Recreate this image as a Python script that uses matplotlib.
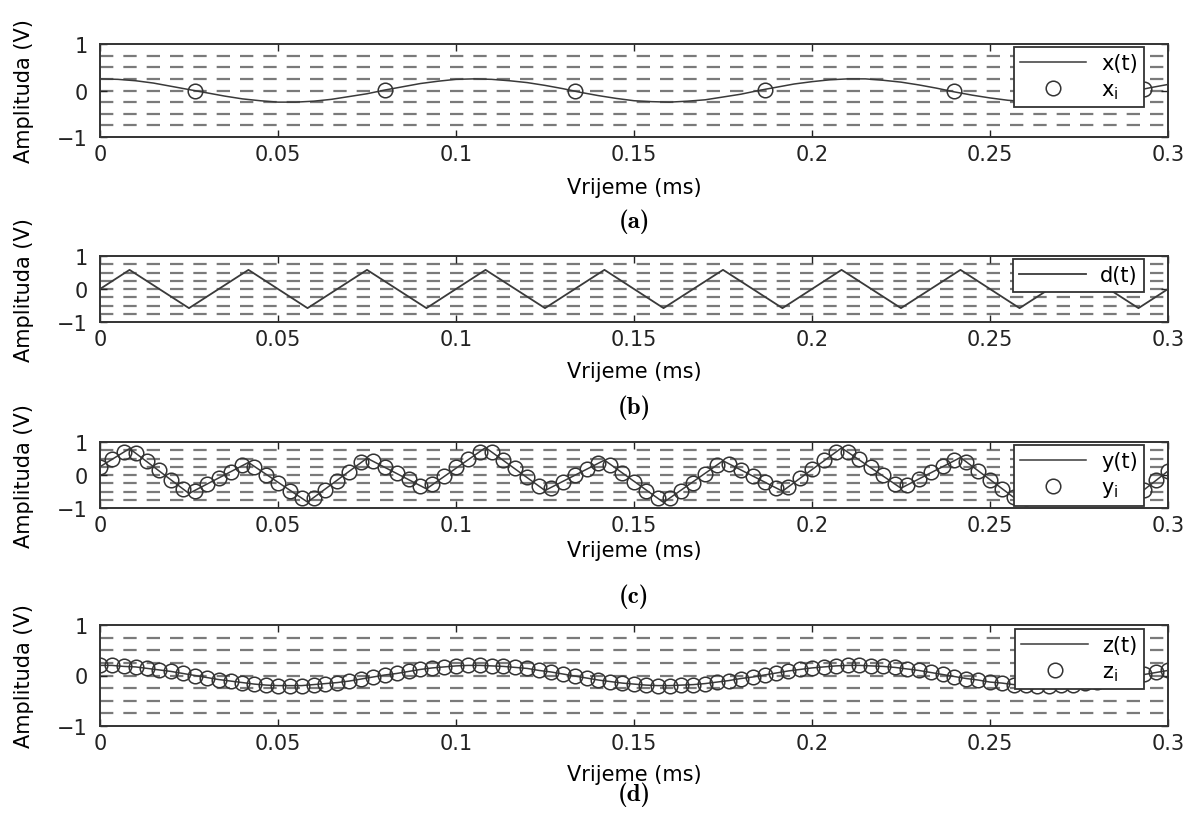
import numpy as np
import matplotlib
matplotlib.use("Agg")
import matplotlib.pyplot as plt

# x(t): slow sine, read every 0.005 ms
t_x = np.linspace(0, 0.3, 61)
x_line = [0.25, 0.24, 0.21, 0.16, 0.09, 0.02, -0.05, -0.12, -0.18, -0.22,
          -0.25, -0.25, -0.23, -0.19, -0.13, -0.07, 0.01, 0.08, 0.15, 0.20,
          0.24, 0.25, 0.24, 0.21, 0.17, 0.11, 0.04, -0.04, -0.11, -0.17,
          -0.22, -0.24, -0.25, -0.23, -0.20, -0.14, -0.08, 0.00, 0.07, 0.14,
          0.19, 0.23, 0.25, 0.25, 0.22, 0.18, 0.12, 0.05, -0.03, -0.10,
          -0.16, -0.21, -0.24, -0.25, -0.24, -0.21, -0.15, -0.09, -0.02, 0.06,
          0.13]
t_xi = [0.0267, 0.08, 0.1333, 0.1867, 0.24, 0.2933]
x_i = [0.00, 0.01, -0.01, 0.02, -0.02, 0.03]

# d(t) triangle and y(t) = x(t) + d(t), at the triangle corners
t_d = [0, 0.0083, 0.025, 0.0417, 0.0583, 0.075, 0.0917, 0.1083, 0.125, 0.1417,
       0.1583, 0.175, 0.1917, 0.2083, 0.225, 0.2417, 0.2583, 0.275, 0.2917, 0.3]
d_line = [0, 0.58, -0.58, 0.58, -0.58, 0.58, -0.58, 0.58, -0.58, 0.58,
          -0.58, 0.58, -0.58, 0.58, -0.58, 0.58, -0.58, 0.58, -0.58, 0]
y_line = [0.25, 0.80, -0.56, 0.38, -0.82, 0.51, -0.42, 0.83, -0.47, 0.45,
          -0.83, 0.43, -0.49, 0.82, -0.40, 0.53, -0.81, 0.37, -0.58, 0.12]

# samples y_i and filtered z_i
t_s = np.linspace(0, 0.3, 91)
y_i = [0.25, 0.48, 0.70, 0.67, 0.41, 0.14, -0.14, -0.42, -0.47, -0.28,
       -0.10, 0.09, 0.29, 0.25, 0.00, -0.25, -0.48, -0.71, -0.69, -0.44,
       -0.17, 0.10, 0.38, 0.42, 0.24, 0.06, -0.13, -0.32, -0.28, -0.02,
       0.23, 0.48, 0.71, 0.71, 0.46, 0.20, -0.06, -0.34, -0.38, -0.20,
       -0.01, 0.17, 0.36, 0.31, 0.05, -0.22, -0.47, -0.71, -0.71, -0.47,
       -0.23, 0.03, 0.30, 0.34, 0.15, -0.03, -0.22, -0.40, -0.35, -0.08,
       0.19, 0.45, 0.70, 0.71, 0.48, 0.24, -0.01, -0.27, -0.30, -0.11,
       0.08, 0.26, 0.44, 0.39, 0.12, -0.16, -0.42, -0.68, -0.70, -0.48,
       -0.25, -0.01, 0.24, 0.27, 0.07, -0.12, -0.30, -0.49, -0.44, -0.16,
       0.12]
z_i = [0.20, 0.20, 0.18, 0.17, 0.14, 0.11, 0.08, 0.04, 0.00, -0.04,
       -0.08, -0.11, -0.14, -0.17, -0.19, -0.20, -0.20, -0.20, -0.18, -0.16,
       -0.14, -0.11, -0.07, -0.03, 0.01, 0.04, 0.08, 0.12, 0.15, 0.17,
       0.19, 0.20, 0.20, 0.19, 0.18, 0.16, 0.14, 0.10, 0.07, 0.03,
       -0.01, -0.05, -0.09, -0.12, -0.15, -0.17, -0.19, -0.20, -0.20, -0.19,
       -0.18, -0.16, -0.13, -0.10, -0.06, -0.03, 0.01, 0.05, 0.09, 0.12,
       0.15, 0.17, 0.19, 0.20, 0.20, 0.19, 0.18, 0.16, 0.13, 0.10,
       0.06, 0.02, -0.02, -0.06, -0.09, -0.13, -0.15, -0.18, -0.19, -0.20,
       -0.20, -0.19, -0.18, -0.15, -0.13, -0.09, -0.06, -0.02, 0.02, 0.06,
       0.10]

xticks = [0, 0.05, 0.1, 0.15, 0.2, 0.25, 0.3]
xtick_labels = ["0", "0.05", "0.1", "0.15", "0.2", "0.25", "0.3"]
yticks = [-1, 0, 1]
ytick_labels = ["\u22121", "0", "1"]
grid_levels = [-0.75, -0.5, -0.25, 0, 0.25, 0.5, 0.75]
captions = ["(a)", "(b)", "(c)", "(d)"]

plt.rcParams["font.family"] = "DejaVu Sans"
fig = plt.figure(figsize=(11.96, 8.29), dpi=100)
W, H = 1196, 829

# panel boxes in pixels: top, bottom ; plus xlabel / caption rows
tops = [45, 257, 443, 626]
bottoms = [138, 323, 509, 727]
xlabel_y = [188, 372, 551, 775]
caption_y = [222, 408, 597, 795]
left, right = 100, 1168
legend_top = [48, 260, 446, 630]

line_col = "#3a3a3a"
edge_col = "#333333"
fs = 15

axes = []
for k in range(4):
    ax = fig.add_axes([left / W, 1 - bottoms[k] / H,
                       (right - left) / W, (bottoms[k] - tops[k]) / H])
    axes.append(ax)
    ax.set_xlim(0, 0.3)
    ax.set_ylim(-1, 1)
    ax.set_xticks(xticks)
    ax.set_xticklabels(xtick_labels)
    ax.set_yticks(yticks)
    ax.set_yticklabels(ytick_labels)
    for lev in grid_levels:
        ax.axhline(lev, color="#7a7a7a", lw=1.6, ls=(0, (6, 4.5)), zorder=1)
    ax.tick_params(direction="in", top=True, right=True, length=5, width=1,
                   labelsize=fs, colors="#222222")
    ax.tick_params(axis="x", pad=5)
    ax.tick_params(axis="y", pad=9)
    for sp in ax.spines.values():
        sp.set_linewidth(1.4)
        sp.set_color(edge_col)
    ax.set_xlabel("Vrijeme (ms)", fontsize=fs)
    h = bottoms[k] - tops[k]
    ax.xaxis.set_label_coords(0.5, -(xlabel_y[k] - bottoms[k]) / h)
    ax.xaxis.label.set_verticalalignment("center")
    ax.set_ylabel("Amplituda (V)", fontsize=fs)
    ax.yaxis.set_label_coords(-76 / (right - left), 0.5)
    ax.yaxis.label.set_verticalalignment("center")
    fig.text(634 / W, 1 - caption_y[k] / H, captions[k], ha="center",
             va="center", fontsize=18, fontname="cmb10")

mk = dict(marker="o", ls="none", ms=10.5, mfc="none", mec=edge_col, mew=1.1)

axes[0].plot(t_x, x_line, color=line_col, lw=1.1, label="x(t)", zorder=3)
axes[0].plot(t_xi, x_i, label=r"x$_\mathregular{i}$", zorder=3, **mk)

axes[1].plot(t_d, d_line, color=line_col, lw=1.3, label="d(t)", zorder=3)

axes[2].plot(t_d, y_line, color=line_col, lw=1.1, label="y(t)", zorder=3)
axes[2].plot(t_s, y_i, label=r"y$_\mathregular{i}$", zorder=3, **mk)

axes[3].plot(t_s, z_i, color=line_col, lw=1.1, label="z(t)", zorder=3)
axes[3].plot(t_s, z_i, label=r"z$_\mathregular{i}$", zorder=3, **mk)

for k, ax in enumerate(axes):
    h = bottoms[k] - tops[k]
    leg = ax.legend(loc="upper right",
                    bbox_to_anchor=((1144 - left) / (right - left),
                                    (bottoms[k] - legend_top[k]) / h),
                    borderaxespad=0, fancybox=False, framealpha=1,
                    edgecolor=edge_col, fontsize=fs, handlelength=3.2,
                    handletextpad=0.7, borderpad=0.3, labelspacing=0.3)
    leg.get_frame().set_linewidth(1.3)
    leg.set_zorder(5)

fig.savefig("out.png", dpi=100)
